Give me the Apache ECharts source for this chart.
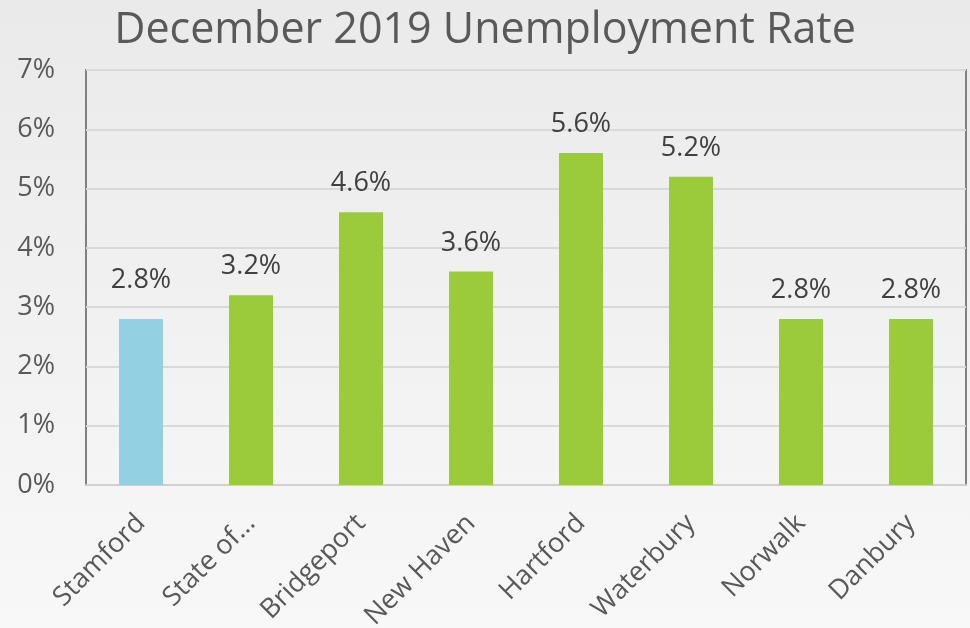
<!DOCTYPE html>
<html><head><meta charset="utf-8">
<script src="https://cdn.jsdelivr.net/npm/echarts@6/dist/echarts.min.js"></script>
<style>html,body{margin:0;padding:0;}#c{width:970px;height:628px;}</style>
</head><body><div id="c"></div>
<script>
const categories = ['Stamford', 'State of…', 'Bridgeport', 'New Haven', 'Hartford', 'Waterbury', 'Norwalk', 'Danbury'];
const rates = [2.8, 3.2, 4.6, 3.6, 5.6, 5.2, 2.8, 2.8];
const barColors = ['#92d0e2', '#9bcb3b', '#9bcb3b', '#9bcb3b', '#9bcb3b', '#9bcb3b', '#9bcb3b', '#9bcb3b'];
const labelLift = [10, 0, 0, 0, 0, 0, 0, 0];
const titleText = 'December 2019 Unemployment Rate';
const FONT = '"Open Sans", "Noto Sans", sans-serif';

const chart = echarts.init(document.getElementById('c'), null, {renderer: 'canvas'});
chart.setOption({
  backgroundColor: new echarts.graphic.LinearGradient(0, 0, 0, 1, [
    {offset: 0, color: '#eaeaea'}, {offset: 1, color: '#f8f8f8'}]),
  title: {
    text: titleText, left: 'center', top: 4,
    textStyle: {fontFamily: FONT, fontSize: 43, fontWeight: 'normal', color: '#595959'}
  },
  grid: {left: 86, right: 4, top: 70, bottom: 143, containLabel: false, outerBoundsMode: 'none',
         show: true, borderColor: '#808080', borderWidth: 2, backgroundColor: 'transparent'},
  xAxis: {
    type: 'category', data: categories,
    axisLine: {show: true, lineStyle: {color: '#d0d0d0', width: 2}},
    axisTick: {show: false},
    axisLabel: {rotate: 45, fontFamily: FONT, fontSize: 27, color: '#595959', margin: 34, interval: 0}
  },
  yAxis: {
    type: 'value', min: 0, max: 7, interval: 1,
    axisLine: {show: false}, axisTick: {show: false},
    splitLine: {lineStyle: {color: '#d9d9d9', width: 2}},
    axisLabel: {formatter: v => v + '%', fontFamily: FONT, fontSize: 27, color: '#595959', margin: 31}
  },
  series: [{
    type: 'bar', barWidth: '40%',
    data: rates.map((v, i) => ({value: v, itemStyle: {color: barColors[i]}, label: {distance: 15 + labelLift[i]}})),
    label: {show: true, position: 'top', distance: 15, formatter: p => p.value.toFixed(1) + '%', fontFamily: FONT, fontSize: 27, color: '#404040'}
  }]
});
</script></body></html>
